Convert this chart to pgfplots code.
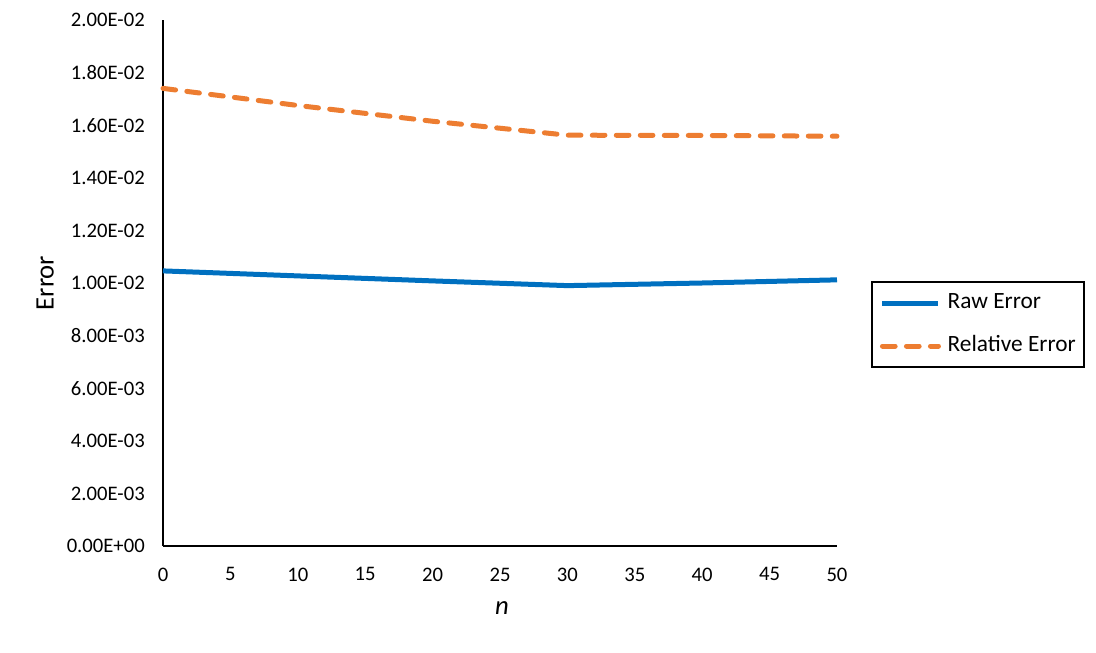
\documentclass[border=0pt]{standalone}
\usepackage{fontspec}
\setmainfont{Carlito}
\usepackage{pgfplots}
\pgfplotsset{compat=1.18}
\definecolor{rawblue}{HTML}{0070C0}
\definecolor{relorange}{HTML}{ED7D31}
\begin{document}
\begin{tikzpicture}
\useasboundingbox (-122.25pt,-80.25pt) rectangle (699.75pt,409.5pt);
\begin{axis}[
  at={(0,0)}, anchor=south west,
  scale only axis, width=505.5pt, height=394.5pt,
  xmin=0, xmax=50, ymin=0, ymax=0.02,
  axis x line=bottom, axis y line=left,
  axis line style={-, line width=1.6pt, black},
  clip=false,
  scaled y ticks=false, scaled x ticks=false,
  xtick={0,5,10,15,20,25,30,35,40,45,50},
  xticklabels={0,5,10,15,20,25,30,35,40,45,50},
  ytick={0,0.002,0.004,0.006,0.008,0.01,0.012,0.014,0.016,0.018,0.02},
  yticklabels={0.00E+00,2.00E-03,4.00E-03,6.00E-03,8.00E-03,1.00E-02,1.20E-02,1.40E-02,1.60E-02,1.80E-02,2.00E-02},
  major tick length=0pt,
  ticklabel style={font=\fontsize{15.5}{18}\selectfont, inner sep=0pt},
  yticklabel style={xshift=-13.5pt},
  xticklabel style={yshift=-16pt},
  ylabel={Error},
  ylabel style={at={(axis description cs:-0.175,0.5)}, anchor=center, font=\fontsize{20}{24}\selectfont},
  xlabel={\textit{n}},
  xlabel style={at={(axis description cs:0.503,-0.118)}, anchor=center, font=\fontsize{20}{24}\selectfont},
  legend style={at={(1.0504,0.5038)}, anchor=north west, draw=black, line width=1.5pt,
    font=\fontsize{17.5}{21}\selectfont,
    nodes={inner sep=0pt, text height=12pt, text depth=4pt},
    row sep=16pt, inner xsep=6pt, inner ysep=8pt,
    /tikz/every odd column/.append style={column sep=5pt}},
  legend cell align=left,
  legend image code/.code={\draw[#1] (0pt,0pt) -- (42pt,0pt);},
]
\addplot[rawblue, line width=3.75pt] coordinates {
  (0,0.01046) (10,0.01027) (20,0.01008) (30,0.00990) (40,0.01000) (50,0.01012)
};
\addlegendentry{Raw Error}
\addplot[relorange, line width=3.75pt, line cap=round, dash pattern=on 9.5pt off 8.5pt] coordinates {
  (0,0.01740) (10,0.01675) (20,0.01615) (30,0.01562) (40,0.01561) (50,0.01558)
};
\addlegendentry{Relative Error}
\end{axis}
\end{tikzpicture}
\end{document}
